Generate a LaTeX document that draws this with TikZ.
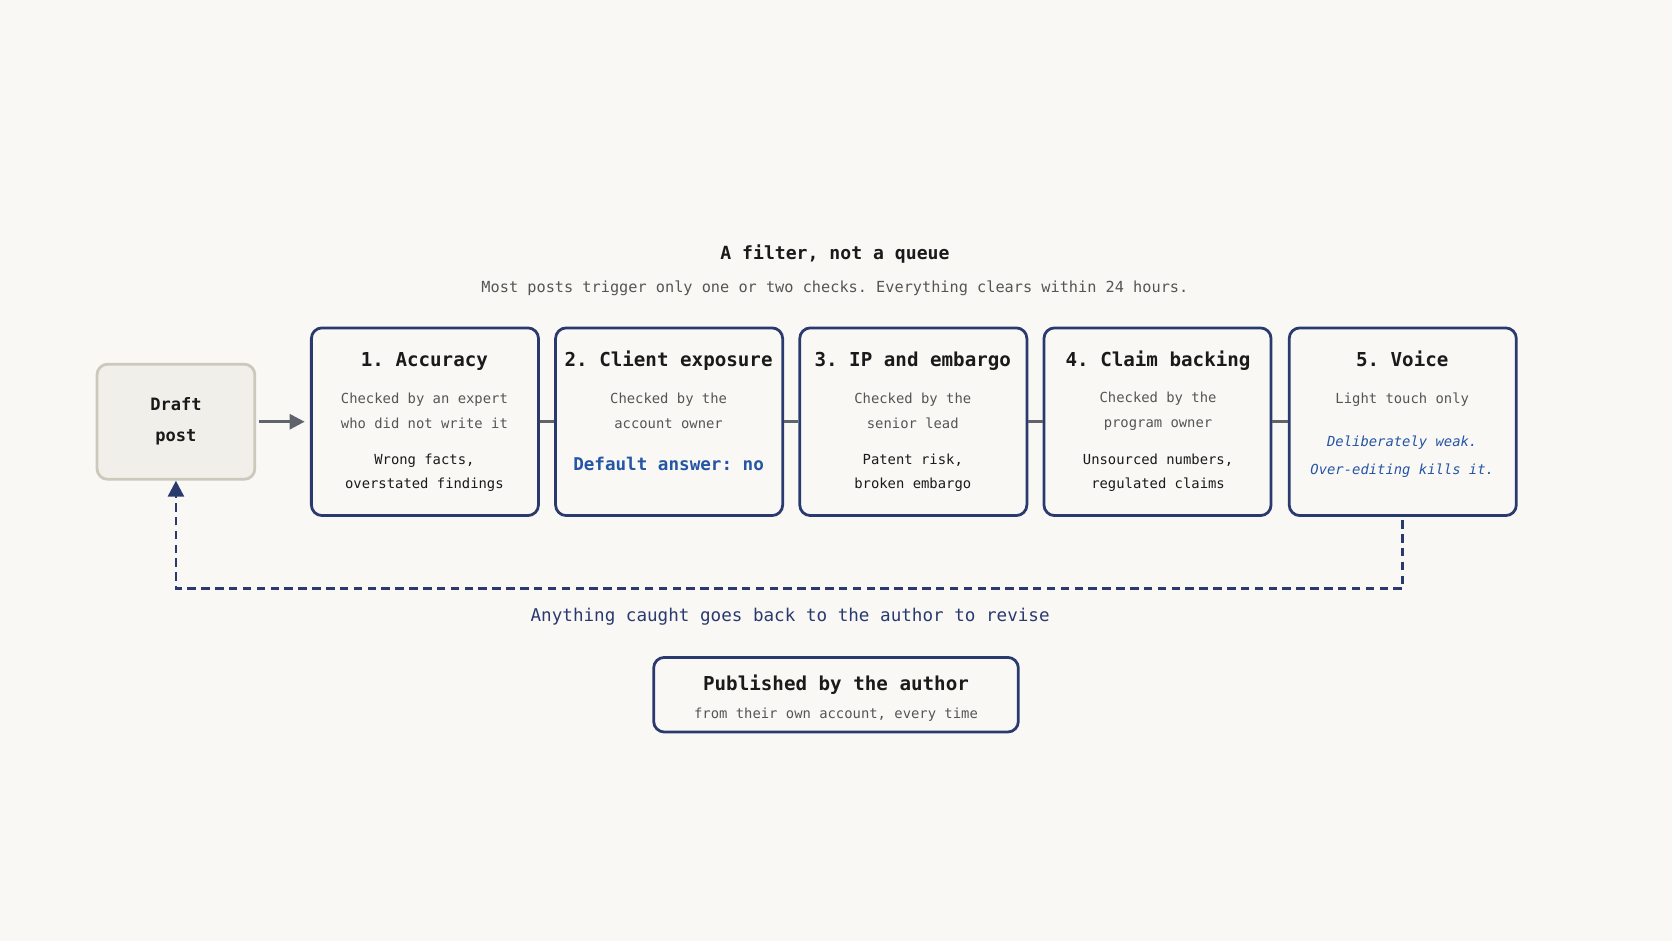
\documentclass[tikz,border=0pt]{standalone}
\usepackage{fontspec}
\setmainfont{DejaVu Sans Mono}
\usepackage{tikz}
\usetikzlibrary{arrows.meta}
\definecolor{paper}{HTML}{F9F8F5}
\definecolor{navy}{HTML}{2B3A6E}
\definecolor{wire}{HTML}{5F636B}
\definecolor{draftfill}{HTML}{F1EFEA}
\definecolor{draftline}{HTML}{CBC8BC}
\definecolor{note}{HTML}{555555}
\definecolor{ink}{HTML}{1A1A1A}
\definecolor{keyblue}{HTML}{2555A5}
\newcommand{\fs}[2]{\fontsize{#1}{#2}\selectfont}
\frenchspacing
\tikzset{>=stealth,
  box/.style = {draw=navy,line width=2.6pt,rounded corners=10pt,fill=paper,
    minimum width=213pt,minimum height=176pt},
  draftbox/.style = {draw=draftline,line width=2.6pt,rounded corners=10pt,fill=draftfill,
    minimum width=148pt,minimum height=108pt,align=center,text=ink,
    font=\fs{16}{29}\bfseries},
  pubbox/.style = {draw=navy,line width=2.6pt,rounded corners=10pt,fill=paper,
    minimum width=342pt,minimum height=70pt},
  boxtitle/.style = {text=ink,font=\fs{18}{22}\bfseries,text height=13pt,text depth=4pt},
  boxnote/.style = {text=note,align=center,font=\fs{13}{23}},
  boxfact/.style = {text=ink,align=center,font=\fs{13}{23}},
  boxkey/.style = {text=keyblue,align=center,font=\fs{13}{26}\itshape},
  link/.style = {draw=wire,line width=2.6pt},
  flow/.style = {draw=wire,line width=2.6pt,-{Triangle[length=14pt,width=14pt]}},
  back/.style = {draw=navy,line width=2.6pt,dash pattern=on 8pt off 5pt,
    -{Triangle[length=15pt,width=15pt]}}
}
\begin{document}
\begin{tikzpicture}[x=1pt,y=-1pt]
  \useasboundingbox[fill=paper] (0,0) rectangle (1568,882.5);

  \node[text=ink,font=\fs{17}{20}\bfseries] (title) at (783,238) {A filter, not a queue};
  \node[text=note,font=\fs{14.3}{18}] (subtitle) at (783,270)
    {Most posts trigger only one or two checks. Everything clears within 24 hours.};

  % the draft and the five checks
  \node[draftbox] (draft) at (165,395.5) {Draft\\post};
  \node[box] (b1) at (398.5,395.5) {};
  \node[box] (b2) at (627.5,395.5) {};
  \node[box] (b3) at (856.5,395.5) {};
  \node[box] (b4) at (1085.5,395.5) {};
  \node[box] (b5) at (1315.5,395.5) {};

  \node[boxtitle] (t1) at (398,339) {1. Accuracy};
  \node[boxnote] (n1) at (398,385.5) {Checked by an expert\\who did not write it};
  \node[boxfact] (f1) at (398,443.5) {Wrong facts,\\overstated findings};

  \node[boxtitle] (t2) at (627,339) {2. Client exposure};
  \node[boxnote] (n2) at (627,385.5) {Checked by the\\account owner};
  \node[text=keyblue,font=\fs{16.5}{20}\bfseries] (k2) at (627,435) {Default answer: no};

  \node[boxtitle] (t3) at (856,339) {3. IP and embargo};
  \node[boxnote] (n3) at (856,385.5) {Checked by the\\senior lead};
  \node[boxfact] (f3) at (856,443.5) {Patent risk,\\broken embargo};

  \node[boxtitle] (t4) at (1086,339) {4. Claim backing};
  \node[boxnote] (n4) at (1086,385.5) {Checked by the\\program owner};
  \node[boxfact] (f4) at (1086,443.5) {Unsourced numbers,\\regulated claims};

  \node[boxtitle] (t5) at (1315,339) {5. Voice};
  \node[boxnote] (n5) at (1315,375) {Light touch only};
  \node[boxkey] (k5) at (1315,428.5) {Deliberately weak.\\Over-editing kills it.};

  \draw[flow,shorten <=3pt,shorten >=5pt] (draft.east) -- (b1.west);
  \draw[link] (b1.east) -- (b2.west);
  \draw[link] (b2.east) -- (b3.west);
  \draw[link] (b3.east) -- (b4.west);
  \draw[link] (b4.east) -- (b5.west);

  % send back
  \coordinate (turn) at (1315.5,552);
  \draw[back,shorten <=3pt] (b5.south) -- (turn) -| (draft.south);
  \node[text=navy,font=\fs{16.5}{20}] (caught) at (741,578)
    {Anything caught goes back to the author to revise};

  \node[pubbox] (pub) at (784,651.5) {};
  \node[boxtitle] (pubtitle) at (784,643) {Published by the author};
  \node[text=note,font=\fs{13}{16}] (pubnote) at (784,670) {from their own account, every time};
\end{tikzpicture}
\end{document}
